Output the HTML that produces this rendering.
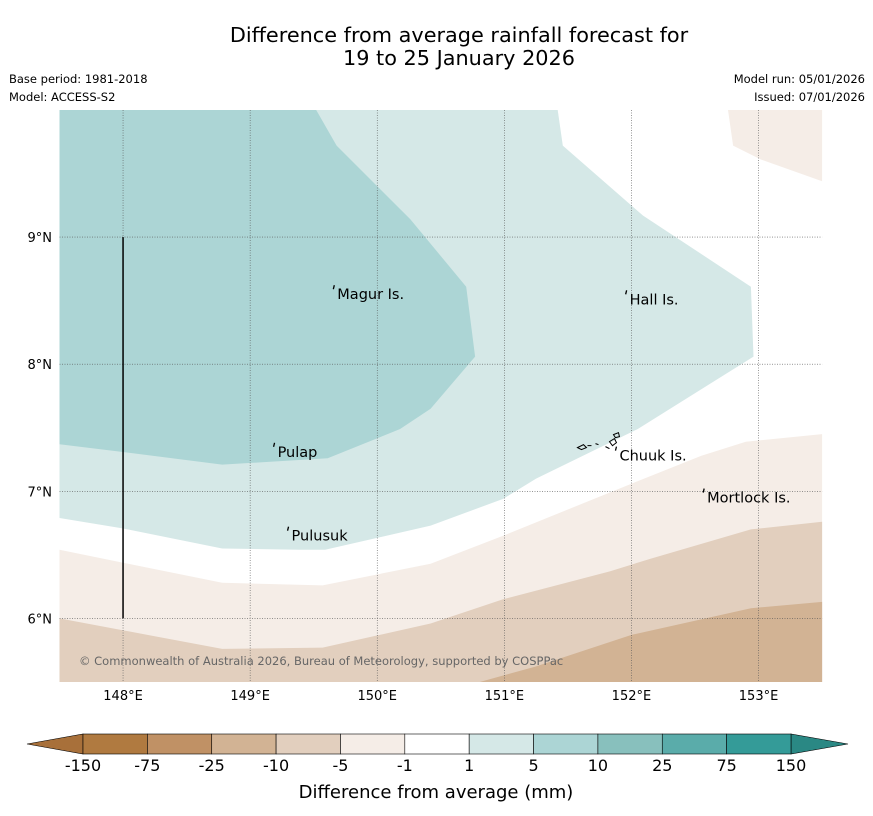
<!DOCTYPE html>
<html><head><meta charset="utf-8"><style>
body{margin:0;background:#fff;font-family:"Liberation Sans","DejaVu Sans",sans-serif;}
svg{display:block}
</style></head><body>
<svg width="873" height="816" viewBox="0 0 873 816">
<text x="459" y="42" text-anchor="middle" font-size="20.8" fill="#000" font-family="DejaVu Sans, sans-serif">Difference from average rainfall forecast for</text>
<text x="459" y="65" text-anchor="middle" font-size="20.8" fill="#000" font-family="DejaVu Sans, sans-serif">19 to 25 January 2026</text>
<text x="9" y="83" font-size="11.5" font-family="DejaVu Sans, sans-serif">Base period: 1981-2018</text>
<text x="9" y="101" font-size="11.5" font-family="DejaVu Sans, sans-serif">Model: ACCESS-S2</text>
<text x="865" y="83" text-anchor="end" font-size="11.5" font-family="DejaVu Sans, sans-serif">Model run: 05/01/2026</text>
<text x="865" y="101" text-anchor="end" font-size="11.5" font-family="DejaVu Sans, sans-serif">Issued: 07/01/2026</text>
<g id="map"></g>
<g id="cbar"></g>
<text x="436" y="798" text-anchor="middle" font-size="18" font-family="DejaVu Sans, sans-serif">Difference from average (mm)</text>
</svg>
<script>
const lonTicks=[148,149,150,151,152,153];
const latTicks=[6,7,8,9];
const darkTeal=[[147.5,10],[149.52,10],[149.68,9.72],[150.26,9.14],[150.70,8.61],[150.77,8.06],[150.42,7.65],[150.18,7.49],[149.61,7.26],[148.78,7.21],[147.99,7.31],[147.5,7.37]];
const lightTeal=[[147.5,10],[151.42,10],[151.46,9.72],[152.09,9.17],[152.94,8.61],[152.96,8.06],[152.05,7.49],[151.25,7.10],[150.99,6.94],[150.42,6.73],[149.59,6.54],[149.39,6.54],[148.78,6.55],[147.99,6.71],[147.5,6.79]];
const brown1=[[147.5,6.54],[148.78,6.28],[149.57,6.26],[150.42,6.43],[150.99,6.65],[152.0,7.06],[152.55,7.28],[152.9,7.39],[153.5,7.45]];
const brown1Patch=[[152.76,10],[152.8,9.72],[153.02,9.61],[153.5,9.44],[153.5,10]];
const brown2=[[147.5,6.0],[148.78,5.76],[149.57,5.77],[150.42,5.96],[150.99,6.15],[151.83,6.37],[152.15,6.47],[152.94,6.70],[153.5,6.76]];
const brown3=[[150.81,5.5],[151.24,5.62],[152.0,5.87],[152.94,6.08],[153.5,6.13]];
const islandNames=["Magur Is.","Hall Is.","Pulap","Chuuk Is.","Mortlock Is.","Pulusuk"];
const islandLon=[149.67,151.97,149.2,151.89,152.58,149.31];
const islandLat=[8.59,8.55,7.35,7.32,6.99,6.69];
const cbLabels=["-150","-75","-25","-10","-5","-1","1","5","10","25","75","150"];
const cbColors=["#b07a40","#c09165","#d2b394","#e2cfbe","#f5ede7","#ffffff","#d5e8e7","#acd5d5","#88c0bd","#5aacaa","#349b98"];
const NS="http://www.w3.org/2000/svg";
const X0=59.5,Y0=110,SC=127.1;
function px(lon){return X0+(lon-147.5)*SC;}
function py(lat){return Y0+(10-lat)*SC;}
const map=document.getElementById('map');
function mk(tag,attrs,parent){const e=document.createElementNS(NS,tag);for(const k in attrs)e.setAttribute(k,attrs[k]);parent.appendChild(e);return e;}
function pts(a){return a.map(p=>px(p[0]).toFixed(1)+','+py(p[1]).toFixed(1)).join(' ');}
function below(a){return pts(a)+' '+px(153.5)+','+py(5.5)+' '+px(a[0][0])+','+py(5.5);}
let e;
e=mk('polygon',{points:below(brown1),fill:'#f5ede7'},map);


e=mk('polygon',{points:pts(brown1Patch),fill:'#f5ede7'},map);


e=mk('polygon',{points:below(brown2),fill:'#e2cfbe'},map);


e=mk('polygon',{points:below(brown3),fill:'#d2b394'},map);


e=mk('polygon',{points:pts(lightTeal),fill:'#d5e8e7'},map);


e=mk('polygon',{points:pts(darkTeal),fill:'#acd5d5'},map);


lonTicks.forEach(l=>{
 e=mk('line',{x1:px(l),x2:px(l),y1:py(10),y2:py(5.5),stroke:'#555','stroke-width':0.6,'stroke-dasharray':'1,1.5'},map);
 
 
 e=mk('text',{x:px(l),y:700,'text-anchor':'middle','font-size':13,'font-family':'DejaVu Sans, sans-serif'},map);
 e.textContent=l+'°E';
 
 
});
latTicks.forEach(l=>{
 e=mk('line',{x1:px(147.5),x2:px(153.5),y1:py(l),y2:py(l),stroke:'#555','stroke-width':0.6,'stroke-dasharray':'1,1.5'},map);
 
 
 e=mk('text',{x:52,y:py(l)+5,'text-anchor':'end','font-size':13,'font-family':'DejaVu Sans, sans-serif'},map);
 e.textContent=l+'°N';
 
 
});
e=mk('line',{x1:px(148),x2:px(148),y1:py(9),y2:py(6),stroke:'#000','stroke-width':1.5},map);


islandNames.forEach((n,i)=>{
 const x=px(islandLon[i]),y=py(islandLat[i]);
 e=mk('path',{d:`M${x-1},${y-4} l-1,4`,stroke:'#000','stroke-width':1.3,fill:'none'},map);
 
 
 e=mk('text',{x:x+2,y:y+10,'font-size':14.5,'font-family':'DejaVu Sans, sans-serif'},map);
 e.textContent=n;
 
 
});
const cx=px(islandLon[3]),cyy=py(islandLat[3]);
e=mk('path',{d:`M${cx-40},${cyy-3} l6,-3 l3,3 l-5,2z M${cx-30},${cyy-5} l4,0 M${cx-22},${cyy-7} l3,1 M${cx-12},${cyy-4} l4,2 M${cx-8},${cyy-9} l5,-3 l2,4 l-4,3z M${cx-4},${cyy-16} l5,-2 l1,4 l-4,1z`,stroke:'#000','stroke-width':1,fill:'none'},map);


e=mk('text',{x:79,y:665,'font-size':11.5,fill:'#666','font-family':'DejaVu Sans, sans-serif'},map);
e.textContent='© Commonwealth of Australia 2026, Bureau of Meteorology, supported by COSPPac';


const cb=document.getElementById('cbar');
const cx0=83,cw=(791-83)/11,cy=734,ch=20;
e=mk('polygon',{points:`${cx0},${cy} ${cx0},${cy+ch} 27,${cy+ch/2}`,fill:'#a8703a',stroke:'#000','stroke-width':0.6},cb);


e=mk('polygon',{points:`791,${cy} 791,${cy+ch} 848,${cy+ch/2}`,fill:'#2a8884',stroke:'#000','stroke-width':0.6},cb);


cbColors.forEach((c,i)=>{
 e=mk('rect',{x:cx0+i*cw,y:cy,width:cw,height:ch,fill:c,stroke:'#000','stroke-width':0.6},cb);
 
 
});
cbLabels.forEach((t,i)=>{
 e=mk('text',{x:cx0+i*cw,y:771,'text-anchor':'middle','font-size':16,'font-family':'DejaVu Sans, sans-serif'},cb);
 e.textContent=t;
 
 
});
</script>
</body></html>
